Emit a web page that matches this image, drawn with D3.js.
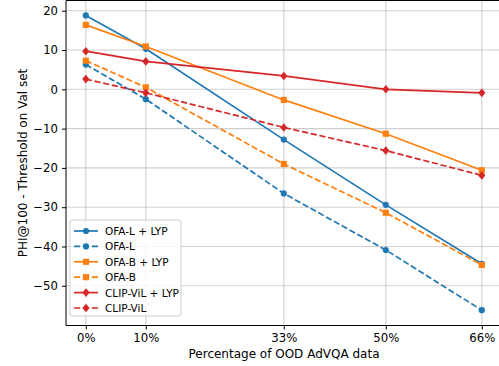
<!DOCTYPE html>
<html>
<head>
<meta charset="utf-8">
<script src="https://cdn.jsdelivr.net/npm/d3@7"></script>
<style>
  body { margin: 0; background: #fff; }
  text { font-family: "DejaVu Sans", sans-serif; }
</style>
</head>
<body>
<div id="chart"></div>
<script>
// x positions (percent of OOD AdVQA data)
const percents = [0, 10, 33, 50, 66];
const tickLabels = ["0%", "10%", "33%", "50%", "66%"];

const ofaLLyp = [18.8, 10.3, -12.8, -29.4, -44.4];
const ofaL = [6.3, -2.5, -26.5, -40.9, -56.2];
const ofaBLyp = [16.4, 10.9, -2.7, -11.3, -20.6];
const ofaB = [7.3, 0.5, -19.0, -31.4, -44.7];
const clipLyp = [9.7, 7.1, 3.4, 0.0, -0.9];
const clip = [2.6, -0.9, -9.7, -15.6, -21.9];

const series = [
  { name: "OFA-L + LYP", values: ofaLLyp, color: "#1f77b4", dash: null, marker: "circle" },
  { name: "OFA-L", values: ofaL, color: "#1f77b4", dash: "6.2,2.7", marker: "circle" },
  { name: "OFA-B + LYP", values: ofaBLyp, color: "#ff7f0e", dash: null, marker: "square" },
  { name: "OFA-B", values: ofaB, color: "#ff7f0e", dash: "6.2,2.7", marker: "square" },
  { name: "CLIP-ViL + LYP", values: clipLyp, color: "#d62728", dash: null, marker: "diamond" },
  { name: "CLIP-ViL", values: clip, color: "#d62728", dash: "6.2,2.7", marker: "diamond" }
];

const width = 499, height = 366;
const m = { left: 66, right: 501.6, top: 0.5, bottom: 325.5 };

const svg = d3.select("#chart").append("svg")
  .attr("width", width).attr("height", height);

const x = d3.scaleLinear().domain([-3.3, 69.3]).range([m.left, m.right]);
const y = d3.scaleLinear().domain([-60.1, 22.6]).range([m.bottom, m.top]);

// grid
const yTicks = d3.range(-50, 21, 10);
svg.append("g").selectAll("line").data(yTicks).enter().append("line")
  .attr("x1", m.left).attr("x2", m.right)
  .attr("y1", d => y(d)).attr("y2", d => y(d))
  .attr("stroke", "#b0b0b0").attr("stroke-opacity", 0.6).attr("stroke-width", 1.1);
svg.append("g").selectAll("line").data(percents).enter().append("line")
  .attr("x1", d => x(d)).attr("x2", d => x(d))
  .attr("y1", m.top).attr("y2", m.bottom)
  .attr("stroke", "#b0b0b0").attr("stroke-opacity", 0.6).attr("stroke-width", 1.1);

// lines + markers
const line = d3.line().x((d, i) => x(percents[i])).y(d => y(d));
const symbols = {
  circle: () => d3.symbol().type(d3.symbolCircle).size(30)(),
  square: () => d3.symbol().type(d3.symbolSquare).size(38)(),
  diamond: () => "M0,-4.3L3.6,0L0,4.3L-3.6,0Z"
};

series.forEach(s => {
  svg.append("path")
    .attr("d", line(s.values))
    .attr("fill", "none")
    .attr("stroke", s.color)
    .attr("stroke-width", 1.7)
    .attr("stroke-dasharray", s.dash);
  svg.append("g").selectAll("path").data(s.values).enter().append("path")
    .attr("d", symbols[s.marker]())
    .attr("transform", (d, i) => `translate(${x(percents[i])},${y(d)})`)
    .attr("fill", s.color);
});

// axes
const xAxis = svg.append("g").attr("transform", `translate(0,${m.bottom})`)
  .call(d3.axisBottom(x).tickValues(percents).tickFormat((d, i) => tickLabels[i])
    .tickSizeOuter(0).tickSize(4).tickPadding(4));
const yAxis = svg.append("g").attr("transform", `translate(${m.left},0)`)
  .call(d3.axisLeft(y).tickValues(yTicks).tickFormat(d => d < 0 ? "\u2212" + Math.abs(d) : d)
    .tickSizeOuter(0).tickSize(4).tickPadding(4));
[xAxis, yAxis].forEach(a => {
  a.select(".domain").remove();
  a.selectAll("text").attr("font-size", 11.7).attr("fill", "#000")
    .style("font-family", "DejaVu Sans");
  a.selectAll("line").attr("stroke", "#000").attr("stroke-width", 1);
});

// spines
svg.append("line").attr("x1", m.left).attr("x2", m.left).attr("y1", m.top).attr("y2", m.bottom)
  .attr("stroke", "#000").attr("stroke-width", 1);
svg.append("line").attr("x1", m.left).attr("x2", m.right).attr("y1", m.bottom).attr("y2", m.bottom)
  .attr("stroke", "#000").attr("stroke-width", 1);
svg.append("line").attr("x1", m.left).attr("x2", m.right).attr("y1", m.top).attr("y2", m.top)
  .attr("stroke", "#000").attr("stroke-width", 1);

// axis labels
svg.append("text")
  .attr("x", 284).attr("y", 358)
  .attr("text-anchor", "middle").attr("font-size", 12)
  .text("Percentage of OOD AdVQA data");
svg.append("text")
  .attr("transform", `translate(27,${(m.top + m.bottom) / 2}) rotate(-90)`)
  .attr("text-anchor", "middle").attr("font-size", 12)
  .text("PHI@100 - Threshold on Val set");

// legend
const lg = svg.append("g").attr("transform", "translate(70,220)");
lg.append("rect")
  .attr("width", 111).attr("height", 96).attr("rx", 2.5)
  .attr("fill", "#fff").attr("fill-opacity", 0.8)
  .attr("stroke", "#cccccc").attr("stroke-width", 1);
series.forEach((s, i) => {
  const cy = 11 + i * 15.4;
  lg.append("line").attr("x1", 4).attr("x2", 28).attr("y1", cy).attr("y2", cy)
    .attr("stroke", s.color).attr("stroke-width", 1.7)
    .attr("stroke-dasharray", s.dash);
  lg.append("path").attr("d", symbols[s.marker]())
    .attr("transform", `translate(16,${cy})`).attr("fill", s.color);
  lg.append("text").attr("x", 35).attr("y", cy + 4)
    .attr("font-size", 10.5).text(s.name);
});
</script>
</body>
</html>
